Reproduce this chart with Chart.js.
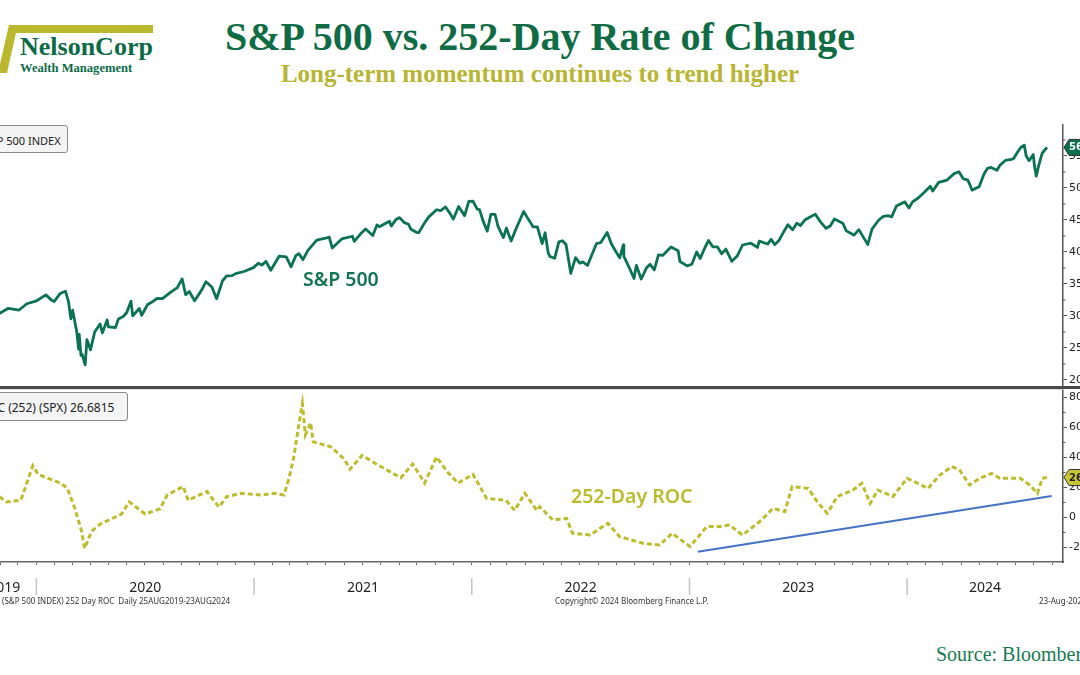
<!DOCTYPE html>
<html><head><meta charset="utf-8">
<script src="https://cdn.jsdelivr.net/npm/chart.js@4.4.0/dist/chart.umd.min.js"></script>
<style>
html,body{margin:0;padding:0;background:#fff}
body{width:1080px;height:675px;overflow:hidden;position:relative;font-family:'Noto Sans',sans-serif}
.abs{position:absolute;white-space:nowrap;line-height:1}
.serif{font-family:'Liberation Serif','Times New Roman',serif}
.box{position:absolute;background:#f4f4f4;border:1px solid #8a8a8a;border-radius:3px;box-sizing:border-box;overflow:hidden}
.box span{position:absolute;white-space:nowrap;color:#222;font-family:'Noto Sans',sans-serif;font-size:11px;line-height:1}
</style></head><body>

<div class="abs" style="left:0;top:0;width:160px;height:80px;background:#b9b82f;clip-path:polygon(9px 25px,153px 25px,153px 33px,16px 33px,7px 73px,0px 73px,0px 64px)"></div>
<div class="abs serif" style="left:20px;top:34.4px;font-size:26px;font-weight:bold;color:#0c6b47">NelsonCorp</div>
<div class="abs serif" style="left:20px;top:61.5px;font-size:12.6px;font-weight:bold;color:#0c6b47">Wealth Management</div>

<div class="abs serif" style="left:0;width:1080px;text-align:center;top:16.5px;font-size:40px;font-weight:bold;color:#106c45">S&amp;P 500 vs. 252-Day Rate of Change</div>
<div class="abs serif" style="left:0;width:1080px;text-align:center;top:61px;font-size:25px;font-weight:bold;color:#b7b533">Long-term momentum continues to trend higher</div>

<div style="position:absolute;left:0;top:124px;width:1080px;height:263px"><canvas id="c1" width="1080" height="263" style="width:1080px;height:263px"></canvas></div>
<div style="position:absolute;left:0;top:389px;width:1080px;height:231px"><canvas id="c2" width="1080" height="231" style="width:1080px;height:231px"></canvas></div>

<div class="abs" style="left:0;top:386px;width:1080px;height:3px;background:#4a4a4a"></div>
<div class="abs" style="left:0;top:389px;width:1063px;height:1px;background:#dcdcdc"></div>

<div class="box" style="left:-25px;top:125px;width:93px;height:28px"><span style="left:6.6px;top:8.5px">S&amp;P 500 INDEX</span></div>
<div class="box" style="left:-25px;top:392px;width:153px;height:29px"><span style="left:4.6px;top:8.5px;font-size:12px">ROC (252) (SPX) 26.6815</span></div>

<div class="abs" style="left:303px;top:268.7px;font-size:19.5px;font-weight:600;color:#137552">S&amp;P 500</div>
<div class="abs" style="left:571px;top:485.7px;font-size:19.5px;font-weight:600;color:#bcbb2e">252-Day ROC</div>

<div class="abs" style="left:2px;top:597px;font-size:8px;color:#333">(S&amp;P 500 INDEX) 252 Day ROC&nbsp; Daily 25AUG2019-23AUG2024</div>
<div class="abs" style="left:555px;top:597px;font-size:8px;color:#333">Copyright© 2024 Bloomberg Finance L.P.</div>
<div class="abs" style="left:1039px;top:597px;font-size:8px;color:#333">23-Aug-2024</div>

<div class="abs serif" style="left:936px;top:644.3px;font-size:20px;color:#177a52">Source: Bloomberg</div>

<script>
// ---- data ----
const spxDates = ['2019-10-31','2019-11-15','2019-12-03','2019-12-16','2019-12-31',
'2020-01-17','2020-01-27','2020-01-31','2020-02-10','2020-02-19','2020-02-24','2020-02-28','2020-03-02','2020-03-09','2020-03-12','2020-03-13','2020-03-16','2020-03-18','2020-03-23','2020-03-26','2020-04-01','2020-04-08','2020-04-17','2020-04-21','2020-04-29','2020-05-01','2020-05-13','2020-05-18','2020-05-26','2020-06-01','2020-06-08','2020-06-11','2020-06-22','2020-06-26','2020-07-06','2020-07-15','2020-07-22','2020-07-31','2020-08-14','2020-08-25','2020-09-02','2020-09-08','2020-09-14','2020-09-23','2020-10-05','2020-10-12','2020-10-22','2020-10-30','2020-11-09','2020-11-16','2020-11-25','2020-12-01','2020-12-15','2020-12-31',
'2021-01-08','2021-01-14','2021-01-21','2021-01-29','2021-02-12','2021-02-24','2021-03-04','2021-03-12','2021-03-17','2021-03-24','2021-04-01','2021-04-16','2021-04-29','2021-05-07','2021-05-12','2021-05-28','2021-06-15','2021-06-18','2021-06-30','2021-07-07','2021-07-19','2021-07-26','2021-07-30','2021-08-16','2021-08-19','2021-08-27','2021-09-02','2021-09-10','2021-09-17','2021-09-21','2021-09-30','2021-10-04','2021-10-15','2021-10-21','2021-11-03','2021-11-10','2021-11-18','2021-11-26','2021-12-01','2021-12-10','2021-12-20','2021-12-27',
'2022-01-03','2022-01-10','2022-01-14','2022-01-20','2022-01-27','2022-02-02','2022-02-09','2022-02-14','2022-02-23','2022-02-28','2022-03-08','2022-03-16','2022-03-29','2022-04-05','2022-04-14','2022-04-21','2022-04-29','2022-05-04','2022-05-09','2022-05-12','2022-05-20','2022-05-27','2022-06-02','2022-06-08','2022-06-16','2022-06-24','2022-07-01','2022-07-06','2022-07-14','2022-07-29','2022-08-05','2022-08-16','2022-08-23','2022-08-29','2022-09-06','2022-09-12','2022-09-13','2022-09-22','2022-09-30','2022-10-04','2022-10-12','2022-10-21','2022-10-27','2022-11-03','2022-11-10','2022-11-17','2022-12-01','2022-12-13','2022-12-16','2022-12-28',
'2023-01-05','2023-01-13','2023-01-19','2023-01-27','2023-02-02','2023-02-09','2023-02-17','2023-02-24','2023-03-03','2023-03-13','2023-03-22','2023-03-31','2023-04-14','2023-04-25','2023-04-28','2023-05-12','2023-05-18','2023-05-24','2023-05-31','2023-06-06','2023-06-15','2023-06-23','2023-06-30','2023-07-06','2023-07-14','2023-07-26','2023-07-31','2023-08-09','2023-08-18','2023-08-25','2023-09-01','2023-09-15','2023-09-21','2023-09-29','2023-10-04','2023-10-12','2023-10-20','2023-10-27','2023-11-03','2023-11-14','2023-11-22','2023-11-30','2023-12-06','2023-12-14','2023-12-28',
'2024-01-04','2024-01-10','2024-01-19','2024-01-29','2024-02-09','2024-02-13','2024-02-23','2024-03-08','2024-03-20','2024-03-28','2024-04-04','2024-04-12','2024-04-15','2024-04-19','2024-05-01','2024-05-09','2024-05-15','2024-05-21','2024-05-31','2024-06-05','2024-06-14','2024-06-24','2024-06-28','2024-07-05','2024-07-10','2024-07-16','2024-07-19','2024-07-24','2024-07-31','2024-08-02','2024-08-05','2024-08-09','2024-08-15','2024-08-23'];
const spxValues = [3038,3120,3093,3191,3231,
3330,3244,3226,3352,3386,3225,2954,3090,2747,2481,2711,2386,2398,2237,2630,2471,2750,2875,2737,2939,2831,2820,2954,2992,3055,3232,3002,3117,3009,3179,3227,3276,3271,3373,3443,3580,3332,3383,3237,3408,3534,3453,3270,3550,3627,3630,3662,3695,3756,
3824,3795,3853,3714,3934,3925,3768,3943,3974,3881,4020,4185,4211,4232,4063,4204,4246,4166,4298,4358,4258,4422,4395,4479,4405,4509,4537,4458,4433,4354,4307,4300,4471,4549,4660,4646,4704,4595,4513,4712,4568,4791,
4796,4670,4662,4482,4326,4589,4587,4401,4225,4374,4170,4357,4632,4525,4392,4393,4132,4300,3991,3930,3901,4158,4176,4116,3667,3911,3825,3845,3790,4130,4145,4305,4128,4030,3908,4110,3932,3757,3586,3791,3577,3752,3807,3720,3956,3946,4077,4019,3852,3783,
3808,3999,3899,4070,4180,4081,4079,3970,4045,3855,3937,4109,4137,4071,4169,4124,4198,4115,4180,4283,4426,4348,4450,4411,4505,4566,4589,4467,4370,4406,4516,4450,4330,4288,4263,4349,4224,4117,4358,4496,4556,4568,4549,4719,4783,
4688,4783,4840,4927,5027,4953,5088,5124,5224,5254,5147,5123,5061,4967,5018,5214,5308,5321,5278,5354,5431,5448,5460,5567,5633,5667,5505,5427,5522,5346,5186,5344,5543,5634.61];

const rocDates = ['2019-10-31','2019-11-12','2019-12-06','2019-12-26','2020-01-04','2020-02-10','2020-02-22','2020-03-05','2020-03-17','2020-03-22','2020-04-03','2020-04-17','2020-05-23','2020-06-05','2020-07-02','2020-07-27','2020-08-08','2020-09-04','2020-09-12','2020-10-14','2020-11-03','2020-11-16','2020-12-10','2021-01-14','2021-02-05','2021-02-20','2021-02-28','2021-03-08','2021-03-18','2021-03-23','2021-03-28','2021-04-06','2021-04-10','2021-05-10','2021-06-01','2021-06-11','2021-07-01','2021-07-30','2021-09-04','2021-09-24','2021-10-14','2021-11-03','2021-11-22','2021-12-09','2022-01-03','2022-01-26','2022-02-27','2022-03-14','2022-03-31','2022-04-20','2022-04-25','2022-05-17','2022-06-09','2022-06-19','2022-07-18','2022-08-17','2022-09-06','2022-10-15','2022-11-12','2022-12-03','2023-01-02','2023-01-30','2023-02-21','2023-03-09','2023-03-31','2023-05-02','2023-05-21','2023-06-10','2023-06-22','2023-07-19','2023-08-03','2023-08-20','2023-09-06','2023-10-02','2023-10-17','2023-10-31','2023-11-13','2023-12-08','2024-01-01','2024-01-19','2024-02-05','2024-02-25','2024-03-16','2024-03-29','2024-04-15','2024-05-02','2024-05-22','2024-06-05','2024-07-09','2024-07-25','2024-08-07','2024-08-15','2024-08-23'];
const rocValues = [13.9,10.4,11.5,34.5,28.7,23,19.6,6.9,-9.1,-20.6,-9.1,-4.5,2.3,10.4,2.3,5.8,15,20.7,11.5,17.3,6.9,13.9,16.1,15,16.1,15,25.3,39,64.3,75.8,55.1,63.2,50.5,47.1,39,32.2,41.4,34.5,26.5,35.7,23,40.3,29.9,23,28.7,12.7,11.5,4.7,16.1,4.7,7.2,-1.7,-0.6,-10.6,-11.7,-3.9,-12.8,-17.2,-18.3,-10.6,-19.4,-6.1,-6.1,-5,-11.7,-1.7,6.1,3.9,20.6,19.4,10.6,2.8,13.9,18.3,22.8,9.4,18.3,13.9,26.1,22.8,19.4,28.3,33.9,31.7,21.7,26.1,29.4,26.1,26.1,21.7,16.1,26.1,26.68];

const trendDates = ['2023-01-15','2024-08-31'];
const trendValues = [-22.8, 14.3];

const spxTicks = [2000,2500,3000,3500,4000,4500,5000,5500];
const rocTicks = [-20,0,20,40,60,80];
const yearLabels = [2019,2020,2021,2022,2023,2024];

// ---- helpers ----
function toYear(s){
  const p = s.split('-').map(Number);
  const a = Date.UTC(p[0],0,1), b = Date.UTC(p[0]+1,0,1);
  return p[0] + (Date.UTC(p[0],p[1]-1,p[2]) - a)/(b - a);
}
const X_MIN = toYear('2019-11-01');
const X_MAX = toYear('2024-09-19');
const LABEL_START = toYear('2019-09-15');

const monthTicks = [];
for (let y = 2019; y <= 2024; y++) for (let m = 1; m <= 12; m++) {
  const v = toYear(y + '-' + String(m).padStart(2,'0') + '-01');
  if (v >= X_MIN && v <= X_MAX) monthTicks.push(v);
}
const midTicks = arr => arr.slice(0,-1).map((v,i)=>(v+arr[i+1])/2).concat([arr[arr.length-1]+(arr[1]-arr[0])/2]);

const axisFont = {family:'DejaVu Sans', size:11};

function minorTickPlugin(vals){
  return { id:'minor', afterDraw(chart){
    const s = chart.scales.y, x = chart.chartArea.right, c = chart.ctx;
    c.save(); c.strokeStyle = '#555'; c.lineWidth = 1;
    vals.forEach(v=>{ const py = s.getPixelForValue(v); if (py < chart.chartArea.top || py > chart.chartArea.bottom) return;
      c.beginPath(); c.moveTo(x, py); c.lineTo(x+2.5, py); c.stroke(); });
    c.restore();
  }};
}
function tagPlugin(value, text, fill, color){
  return { id:'tag', afterDraw(chart){
    const s = chart.scales.y, c = chart.ctx;
    const y = s.getPixelForValue(value), x0 = chart.chartArea.right + 1;
    c.save();
    c.beginPath(); c.moveTo(x0, y); c.lineTo(x0+5, y-8); c.lineTo(x0+70, y-8); c.lineTo(x0+70, y+8); c.lineTo(x0+5, y+8); c.closePath();
    c.fillStyle = fill; c.fill(); c.strokeStyle = '#333'; c.lineWidth = 1; c.stroke();
    c.fillStyle = color; c.font = 'bold 10px "DejaVu Sans"'; c.textBaseline = 'middle'; c.textAlign = 'left';
    c.fillText(text, x0+5, y+0.5);
    c.restore();
  }};
}
const yearPlugin = { id:'years', afterDraw(chart){
  const xs = chart.scales.x, c = chart.ctx, b = chart.chartArea.bottom;
  c.save();
  c.strokeStyle = '#c4c4c4'; c.lineWidth = 1.5;
  yearLabels.slice(1).forEach(y=>{ const px = xs.getPixelForValue(y); c.beginPath(); c.moveTo(px, b+16); c.lineTo(px, b+33); c.stroke(); });
  c.fillStyle = '#222'; c.font = '14px "Noto Sans"'; c.textAlign = 'center'; c.textBaseline = 'alphabetic';
  yearLabels.forEach(y=>{ const a = Math.max(y, LABEL_START), e = Math.min(y+1, X_MAX); c.fillText(String(y), xs.getPixelForValue((a+e)/2), b+30); });
  c.restore();
}};

const common = { responsive:false, animation:false, events:[], layout:{padding:0},
  plugins:{legend:{display:false}, tooltip:{enabled:false}} };

function yAxis(min, max, ticks){
  return { position:'right', min, max,
    afterBuildTicks: s => { s.ticks = ticks.map(v=>({value:v})); },
    afterFit: s => { s.width = 17; s.paddingTop = 0; s.paddingBottom = 0; },
    grid:{drawOnChartArea:false, tickLength:4, tickColor:'#555', tickWidth:1},
    border:{color:'#555', width:1.5},
    ticks:{color:'#222', font:axisFont, padding:2, callback: v => String(v)} };
}

new Chart(document.getElementById('c1'), {
  type:'line',
  data:{datasets:[{data: spxDates.map((d,i)=>({x:toYear(d), y:spxValues[i]})), borderColor:'#0b7350', borderWidth:2.8, pointRadius:0, tension:0, borderJoinStyle:'round'}]},
  options:Object.assign({}, common, { scales:{
    x:{type:'linear', display:false, min:X_MIN, max:X_MAX},
    y:yAxis(1890, 6000, spxTicks)
  }}),
  plugins:[minorTickPlugin(midTicks(spxTicks)), tagPlugin(spxValues[spxValues.length-1], '5634.61', '#0b6e4f', '#fff')]
});

new Chart(document.getElementById('c2'), {
  type:'line',
  data:{datasets:[
    {data: rocDates.map((d,i)=>({x:toYear(d), y:rocValues[i]})), borderColor:'#bdbc2c', borderWidth:3, borderDash:[5,3], pointRadius:0, tension:0},
    {data: trendDates.map((d,i)=>({x:toYear(d), y:trendValues[i]})), borderColor:'#4472c4', borderWidth:2, pointRadius:0, tension:0}
  ]},
  options:Object.assign({}, common, { scales:{
    x:{type:'linear', position:'bottom', min:X_MIN, max:X_MAX,
      afterBuildTicks: s => { s.ticks = monthTicks.map(v=>({value:v})); },
      afterFit: s => { s.height = 58; s.paddingLeft = 0; s.paddingRight = 0; },
      grid:{drawOnChartArea:false, tickLength:3, tickColor:'#666'},
      border:{color:'#666', width:1.5},
      ticks:{autoSkip:false, maxRotation:0, callback: () => ''}},
    y:yAxis(-29.7, 85.7, rocTicks)
  }}),
  plugins:[minorTickPlugin(midTicks(rocTicks)), tagPlugin(rocValues[rocValues.length-1], '26.68', '#c8c53a', '#222'), yearPlugin]
});
</script>
</body></html>
